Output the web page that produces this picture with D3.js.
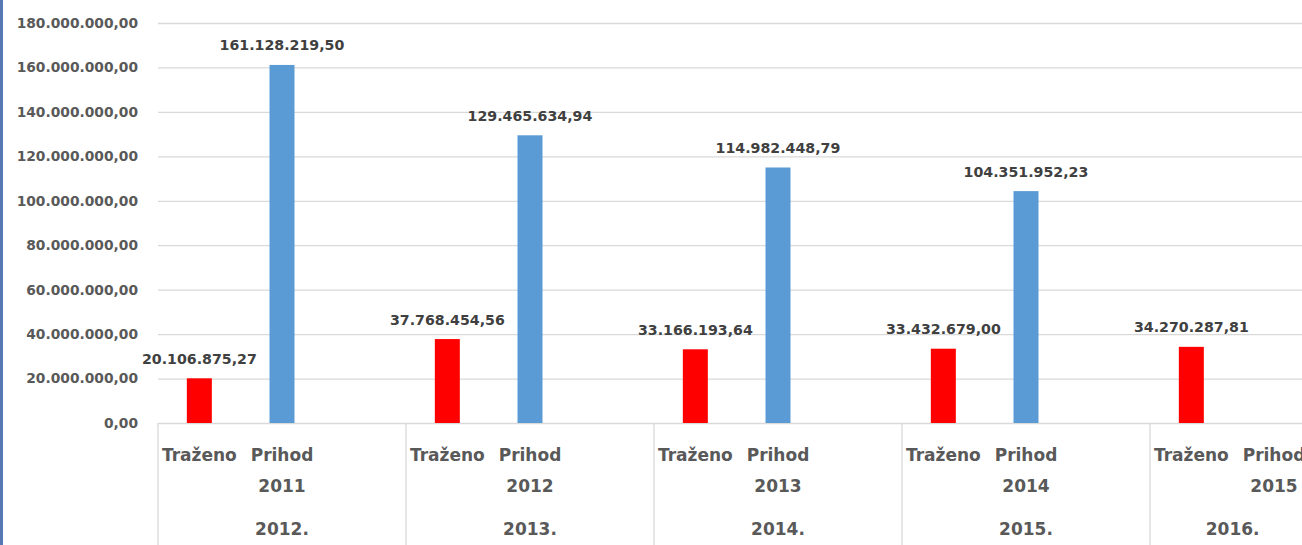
<!DOCTYPE html>
<html>
<head>
<meta charset="utf-8">
<script src="https://cdn.jsdelivr.net/npm/d3@7"></script>
<style>
  body { margin: 0; background: #fff; }
  text { font-family: "DejaVu Sans", sans-serif; font-weight: bold; }
</style>
</head>
<body>
<svg id="chart"></svg>
<script>
// data
var years = ["2012.", "2013.", "2014.", "2015.", "2016."];
var prihodYears = ["2011", "2012", "2013", "2014", "2015"];
var slots = ["Traženo", "Prihod", ""];
var trazeno = [20106875.27, 37768454.56, 33166193.64, 33432679.00, 34270287.81];
var prihod = [161128219.50, 129465634.94, 114982448.79, 104351952.23, null];
var yTicks = [0, 20e6, 40e6, 60e6, 80e6, 100e6, 120e6, 140e6, 160e6, 180e6];

var W = 1302, H = 545;
var left = 158, zeroY = 423, topY = 23, groupW = 248;

var svg = d3.select("#chart")
    .attr("width", W)
    .attr("height", H);

// croatian number format: 1.234,56
var hr = d3.formatLocale({decimal: ",", thousands: ".", grouping: [3], currency: ["", ""]});
var fmt = hr.format(",.2f");

var x0 = d3.scaleBand()
    .domain(years)
    .range([left, left + groupW * years.length])
    .padding(0);
var x1 = d3.scaleBand()
    .domain(slots)
    .range([0, x0.bandwidth()])
    .padding(0);
var y = d3.scaleLinear()
    .domain([0, 180e6])
    .range([zeroY, topY]);

// blue strip on the left edge
svg.append("rect")
    .attr("x", 0).attr("y", 0)
    .attr("width", 3).attr("height", H)
    .attr("fill", "#5679b3");

// gridlines
var grid = svg.append("g")
    .attr("transform", "translate(" + left + ",0)")
    .call(d3.axisLeft(y).tickValues(yTicks).tickSize(-(W - left)).tickFormat(""));
grid.select(".domain").remove();
grid.selectAll("line").attr("stroke", "#d9d9d9").attr("stroke-width", 1.3);

// y labels
var yAxis = svg.append("g")
    .attr("transform", "translate(" + left + ",0)")
    .call(d3.axisLeft(y).tickValues(yTicks).tickSize(0).tickPadding(20).tickFormat(fmt));
yAxis.select(".domain").remove();
yAxis.selectAll("text")
    .attr("fill", "#595959")
    .style("font-size", "13.8px");

// vertical separators under the axis
svg.selectAll(".sep")
    .data(years)
  .enter().append("line")
    .attr("class", "sep")
    .attr("x1", d => x0(d)).attr("x2", d => x0(d))
    .attr("y1", zeroY).attr("y2", H)
    .attr("stroke", "#d9d9d9").attr("stroke-width", 1.3);

var barW = 25;
var groups = svg.selectAll(".grp")
    .data(years)
  .enter().append("g")
    .attr("class", "grp")
    .attr("transform", d => "translate(" + x0(d) + ",0)");

groups.each(function(d, i) {
  var g = d3.select(this);
  var vals = [
    {slot: "Traženo", v: trazeno[i], c: "#ff0000"},
    {slot: "Prihod", v: prihod[i], c: "#5b9bd5"}
  ];
  vals.forEach(function(b) {
    var cx = x1(b.slot) + x1.bandwidth() / 2;
    if (b.v != null) {
      g.append("rect")
          .attr("x", cx - barW / 2)
          .attr("y", y(b.v))
          .attr("width", barW)
          .attr("height", zeroY - y(b.v))
          .attr("fill", b.c);
      g.append("text")
          .attr("x", cx)
          .attr("y", y(b.v) - 14.5)
          .attr("text-anchor", "middle")
          .attr("fill", "#404040")
          .style("font-size", "14.2px")
          .text(fmt(b.v));
    }
  });
  // category labels
  var tx = x1("Traženo") + x1.bandwidth() / 2;
  var px = x1("Prihod") + x1.bandwidth() / 2;
  g.append("text").attr("x", tx).attr("y", 461)
      .attr("text-anchor", "middle").attr("fill", "#595959")
      .style("font-size", "17px").text("Traženo");
  g.append("text").attr("x", px).attr("y", 461)
      .attr("text-anchor", "middle").attr("fill", "#595959")
      .style("font-size", "17px").text("Prihod");
  g.append("text").attr("x", px).attr("y", 492)
      .attr("text-anchor", "middle").attr("fill", "#595959")
      .style("font-size", "17px").text(prihodYears[i]);
  // the last group runs off the edge, its label sits over the visible slots
  var gx = x0(d) + x0.bandwidth() > W ? x1("") / 2 : x0.bandwidth() / 2;
  g.append("text").attr("x", gx).attr("y", 535)
      .attr("text-anchor", "middle").attr("fill", "#595959")
      .style("font-size", "17px").text(d);
});
</script>
</body>
</html>
